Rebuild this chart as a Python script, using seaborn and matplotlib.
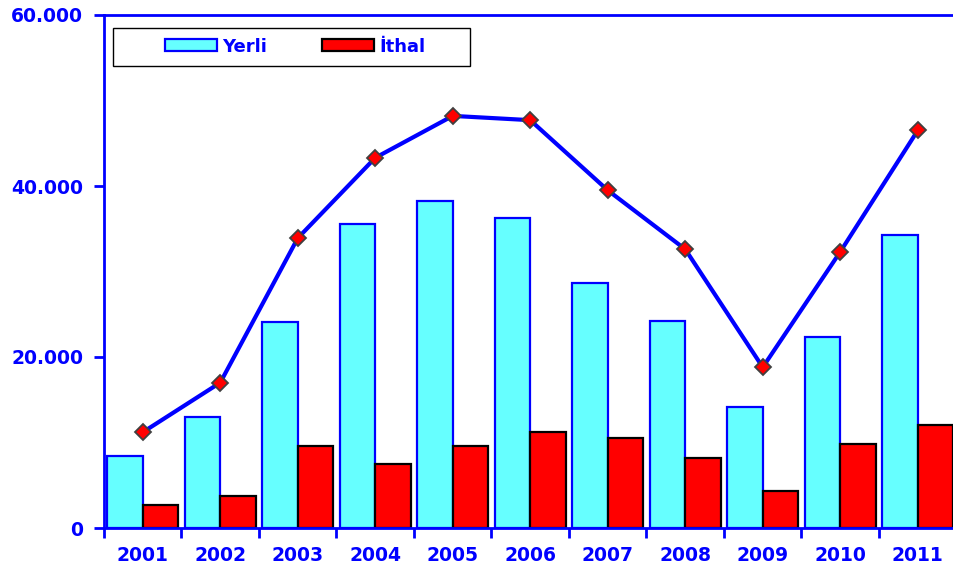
import numpy as np
import pandas as pd
import matplotlib
matplotlib.use("Agg")
import matplotlib.pyplot as plt
import seaborn as sns
from matplotlib.patches import Rectangle
from matplotlib.ticker import FuncFormatter, FixedLocator

# values
years = ["2001", "2002", "2003", "2004", "2005", "2006", "2007", "2008", "2009", "2010", "2011"]
yerli = [8400, 13000, 24100, 35600, 38200, 36300, 28700, 24200, 14200, 22300, 34300]
ithal = [2700, 3700, 9600, 7500, 9600, 11200, 10500, 8200, 4300, 9800, 12000]
toplam = [11200, 17000, 33900, 43300, 48200, 47700, 39500, 32600, 18800, 32300, 46500]
series_names = ["Yerli", "İthal"]
yticks = [0, 20000, 40000, 60000]

BLUE = "#0000FF"
CYAN = "#66FFFF"
RED = "#FF0000"

sns.set_style("white")
plt.rcParams["font.family"] = ["DejaVu Sans"]

df = pd.DataFrame({
    "year": years * 2,
    "value": yerli + ithal,
    "kind": [series_names[0]] * len(years) + [series_names[1]] * len(years),
})

fig = plt.figure(figsize=(9.54, 5.75), dpi=100)
ax = fig.add_axes([104 / 954, 47 / 575, 852.5 / 954, 513 / 575])

sns.barplot(data=df, x="year", y="value", hue="kind", order=years,
            hue_order=series_names, palette=[CYAN, RED], width=0.92,
            dodge=True, saturation=1, errorbar=None, ax=ax, legend=True)

# bar edges: cyan bars have blue outline, red bars black
for patch in ax.patches:
    fc = matplotlib.colors.to_hex(patch.get_facecolor())
    if fc.lower() == CYAN.lower():
        patch.set_edgecolor(BLUE)
    else:
        patch.set_edgecolor("black")
    patch.set_linewidth(1.6)

# total line
sns.lineplot(x=np.arange(len(years)), y=toplam, color=BLUE, linewidth=3,
             marker="D", markersize=8, markerfacecolor=RED,
             markeredgecolor="#404040", markeredgewidth=1.3, ax=ax, zorder=5)

ax.set_xlim(-0.5, len(years) - 0.5)
ax.set_ylim(0, 60000)
ax.yaxis.set_major_locator(FixedLocator(yticks))
ax.yaxis.set_major_formatter(FuncFormatter(lambda v, p: f"{int(v):,}".replace(",", ".")))
ax.set_xlabel("")
ax.set_ylabel("")

# ticks between categories on x
ax.xaxis.set_minor_locator(FixedLocator(np.arange(-0.5, len(years), 1.0)))
ax.tick_params(axis="x", which="major", length=0, pad=13, labelsize=13.5, labelcolor=BLUE)
ax.tick_params(axis="x", which="minor", bottom=True, length=7, width=2, color=BLUE, direction="out")
ax.tick_params(axis="y", which="major", left=True, length=7, width=2, color=BLUE, direction="out",
               labelsize=13.5, labelcolor=BLUE, pad=8)
for lab in ax.get_xticklabels() + ax.get_yticklabels():
    lab.set_fontweight("bold")

for side in ["left", "top", "bottom"]:
    ax.spines[side].set_color(BLUE)
    ax.spines[side].set_linewidth(2)
    ax.spines[side].set_visible(True)
ax.spines["right"].set_visible(False)

# legend inside a framed box
leg = ax.legend(loc="center", bbox_to_anchor=(0.2242, 0.938), ncol=2, frameon=False,
                handlelength=2.9, handleheight=0.65, handletextpad=0.3, columnspacing=3.0,
                prop={"weight": "bold", "size": 13})
for t in leg.get_texts():
    t.set_color(BLUE)
for h in leg.legend_handles:
    h.set_linewidth(1.6)
ax.add_patch(Rectangle((0.0106, 0.9006), 0.419, 0.074, transform=ax.transAxes,
                       fill=False, edgecolor="black", linewidth=1, zorder=6, clip_on=False))

fig.savefig("out.png", dpi=100)
